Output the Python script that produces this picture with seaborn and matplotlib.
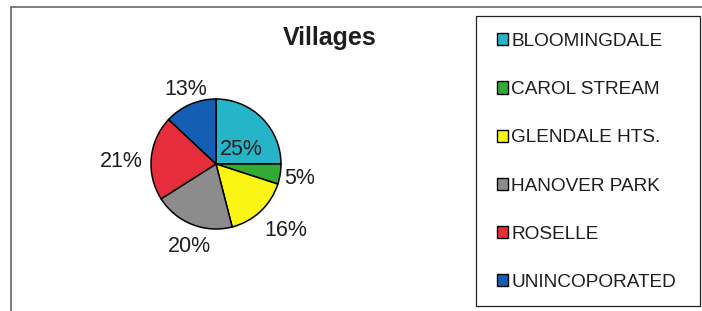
import numpy as np
import matplotlib
matplotlib.use("Agg")
import matplotlib.pyplot as plt
from matplotlib.patches import Rectangle, Patch
from matplotlib.lines import Line2D
import seaborn as sns

# data
villages = ['BLOOMINGDALE', 'CAROL STREAM', 'GLENDALE HTS.', 'HANOVER PARK',
            'ROSELLE', 'UNINCOPORATED']
shares = [25, 5, 16, 20, 21, 13]
colors = ['#25b4c8', '#33aa33', '#faf514', '#8c8c8c', '#e62d3c', '#145fb4']

# where each percent label sits: radius (pie units) and shift from wedge middle (deg)
label_r = [0.44, 1.31, 1.48, 1.34, 1.46, 1.23]
label_shift = [-15.5, -1, 3, 3.5, 4, -1.5]

sns.set_theme(style="white")
plt.rcParams['font.family'] = ['Liberation Sans', 'DejaVu Sans']
txt = '#1e1e1e'

W, H = 702, 311
fig = plt.figure(figsize=(W / 100, H / 100), dpi=100)

# pie axes: centre (216,164) px, radius 65 px
cx, cy, r = 216, 164, 65
ax = fig.add_axes([(cx - 2 * r) / W, (H - cy - 2 * r) / H, 4 * r / W, 4 * r / H])
wedges, _ = ax.pie(shares, colors=colors, startangle=90, counterclock=False,
                   wedgeprops=dict(edgecolor='black', linewidth=1.1))
ax.set_xlim(-2, 2)
ax.set_ylim(-2, 2)
ax.set_aspect('equal')
ax.axis('off')

for w, v, d, s in zip(wedges, shares, label_r, label_shift):
    mid = np.deg2rad((w.theta1 + w.theta2) / 2 + s)
    ax.text(d * np.cos(mid), d * np.sin(mid), f"{v}%", ha='center', va='center',
            fontsize=15.5, color=txt)

fig.text(329.5 / W, 1 - 45 / H, 'Villages', ha='center', va='baseline',
         fontsize=18, fontweight='bold', color=txt)

# outer chart border (top and left only visible)
fig.add_artist(Line2D([11 / W, 11 / W], [0, 1 - 6.5 / H], transform=fig.transFigure,
                      color='#5a5a5a', lw=1.1))
fig.add_artist(Line2D([11 / W, 1], [1 - 6.5 / H, 1 - 6.5 / H], transform=fig.transFigure,
                      color='#5a5a5a', lw=1.1))

# legend box
fig.add_artist(Rectangle((476 / W, 1 - 306 / H), 224 / W, 290 / H,
                         transform=fig.transFigure, fill=False,
                         edgecolor='#222222', lw=0.9))

handles = [Patch(facecolor=c, edgecolor='black', linewidth=1.0) for c in colors]
fig.legend(handles, villages, loc='upper left', bbox_to_anchor=(497 / W, 1 - 33 / H),
           frameon=False, fontsize=13.7, borderpad=0, borderaxespad=0,
           handlelength=0.6, handleheight=0.6, handletextpad=0.15,
           labelspacing=1.64, labelcolor=txt)

fig.savefig('out.png', dpi=100)
